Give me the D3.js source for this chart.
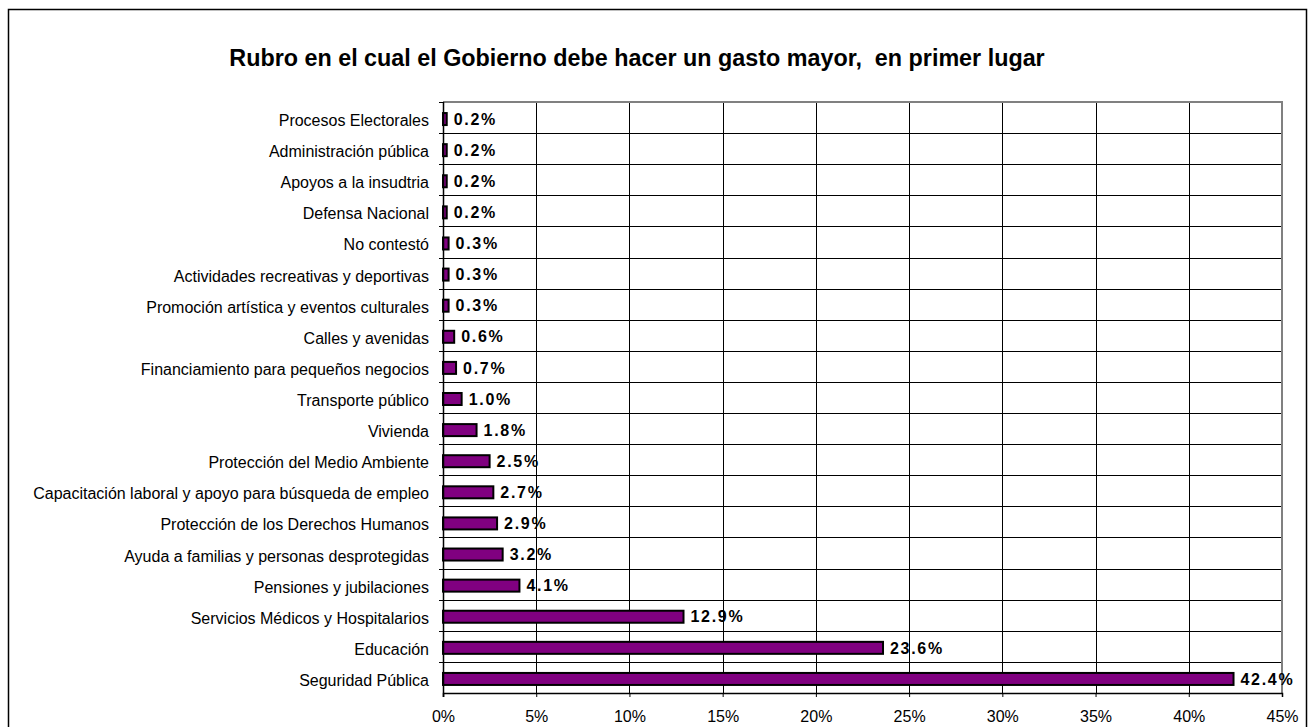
<!DOCTYPE html>
<html><head><meta charset="utf-8">
<script src="https://cdn.jsdelivr.net/npm/d3@7"></script>
<style>body{margin:0;background:#fff;}svg{display:block;font-family:"Liberation Sans",Arial,sans-serif;}</style>
</head><body>
<svg id="c" width="1311" height="727"></svg>
<script>
const categories = ["Procesos Electorales","Administración pública","Apoyos a la insudtria","Defensa Nacional","No contestó","Actividades recreativas y deportivas","Promoción artística y eventos culturales","Calles y avenidas","Financiamiento para pequeños negocios","Transporte público","Vivienda","Protección del Medio Ambiente","Capacitación laboral y apoyo para búsqueda de empleo","Protección de los Derechos Humanos","Ayuda a familias y personas desprotegidas","Pensiones y jubilaciones","Servicios Médicos y Hospitalarios","Educación","Seguridad Pública"];
const values = [0.2,0.2,0.2,0.2,0.3,0.3,0.3,0.6,0.7,1.0,1.8,2.5,2.7,2.9,3.2,4.1,12.9,23.6,42.4];
const ticks = [0,5,10,15,20,25,30,35,40,45];
const title = "Rubro en el cual el Gobierno debe hacer un gasto mayor,  en primer lugar";

const svg = d3.select("#c");
const L = 443, R = 1282, T = 102, B = 693;
svg.append("rect").attr("x",8.5).attr("y",9.5).attr("width",1298).attr("height",730).attr("fill","none").attr("stroke","#000").attr("stroke-width",1.5);
const tt = svg.append("text").attr("x",637).attr("y",66).attr("text-anchor","middle").attr("font-weight","bold").attr("font-size",21)
  .style("white-space","pre").text(title);
const tw = tt.node().getComputedTextLength();
tt.attr("font-size", 21 * 816 / tw);

const x = d3.scaleLinear().domain([0,45]).range([L,R]);
const y = d3.scaleBand().domain(categories).range([T,B]);

// vertical grid
svg.append("g").selectAll("line").data(ticks.slice(1,-1)).join("line")
  .attr("x1",d=>Math.round(x(d))+0.5).attr("x2",d=>Math.round(x(d))+0.5).attr("y1",T).attr("y2",B)
  .attr("stroke","#000").attr("stroke-width",1);
// horizontal grid
svg.append("g").selectAll("line").data(categories.slice(1)).join("line")
  .attr("x1",L).attr("x2",R).attr("y1",d=>Math.round(y(d))+0.5).attr("y2",d=>Math.round(y(d))+0.5)
  .attr("stroke","#000").attr("stroke-width",1);
// gray top/right border
svg.append("path").attr("d",`M${L},${T} H${R} V${B}`).attr("fill","none").attr("stroke","#808080").attr("stroke-width",2);

// bars
const bh = 12;
svg.append("g").selectAll("rect").data(values).join("rect")
  .attr("x",L).attr("y",(d,i)=>y(categories[i])+y.bandwidth()/2-bh/2+1.5)
  .attr("width",d=>x(d)-L).attr("height",bh)
  .attr("fill","#800080").attr("stroke","#000").attr("stroke-width",2);

// value labels
svg.append("g").selectAll("text").data(values).join("text")
  .attr("x",d=>x(d)+7).attr("y",(d,i)=>y(categories[i])+y.bandwidth()/2+7.2)
  .attr("font-weight","bold").attr("font-size",16).attr("letter-spacing","1.7px")
  .text(d=>d.toFixed(1)+"%");

// y axis
const ya = d3.axisLeft(y).tickSize(0).tickPadding(14);
const gy = svg.append("g").attr("transform",`translate(${L},0)`).call(ya);
gy.select(".domain").remove();
gy.selectAll("text").attr("font-size",16).attr("font-family","Liberation Sans, Arial, sans-serif").attr("fill","#000").attr("dy","0.53em");
svg.append("line").attr("x1",L+0.5).attr("x2",L+0.5).attr("y1",T).attr("y2",B+4).attr("stroke","#000").attr("stroke-width",1.5);
svg.append("g").selectAll("line").data(categories).join("line")
  .attr("x1",L-4).attr("x2",L).attr("y1",d=>Math.round(y(d))+0.5).attr("y2",d=>Math.round(y(d))+0.5).attr("stroke","#000");

// x axis
const xa = d3.axisBottom(x).tickValues(ticks).tickFormat(d=>d+"%").tickSize(4).tickPadding(14);
const gx = svg.append("g").attr("transform",`translate(0,${B})`).call(xa);
gx.select(".domain").attr("stroke","#000").attr("stroke-width",1.5);
gx.selectAll("line").attr("stroke","#000");
gx.selectAll("text").attr("font-size",16).attr("font-family","Liberation Sans, Arial, sans-serif").attr("fill","#000");
</script>
</body></html>
